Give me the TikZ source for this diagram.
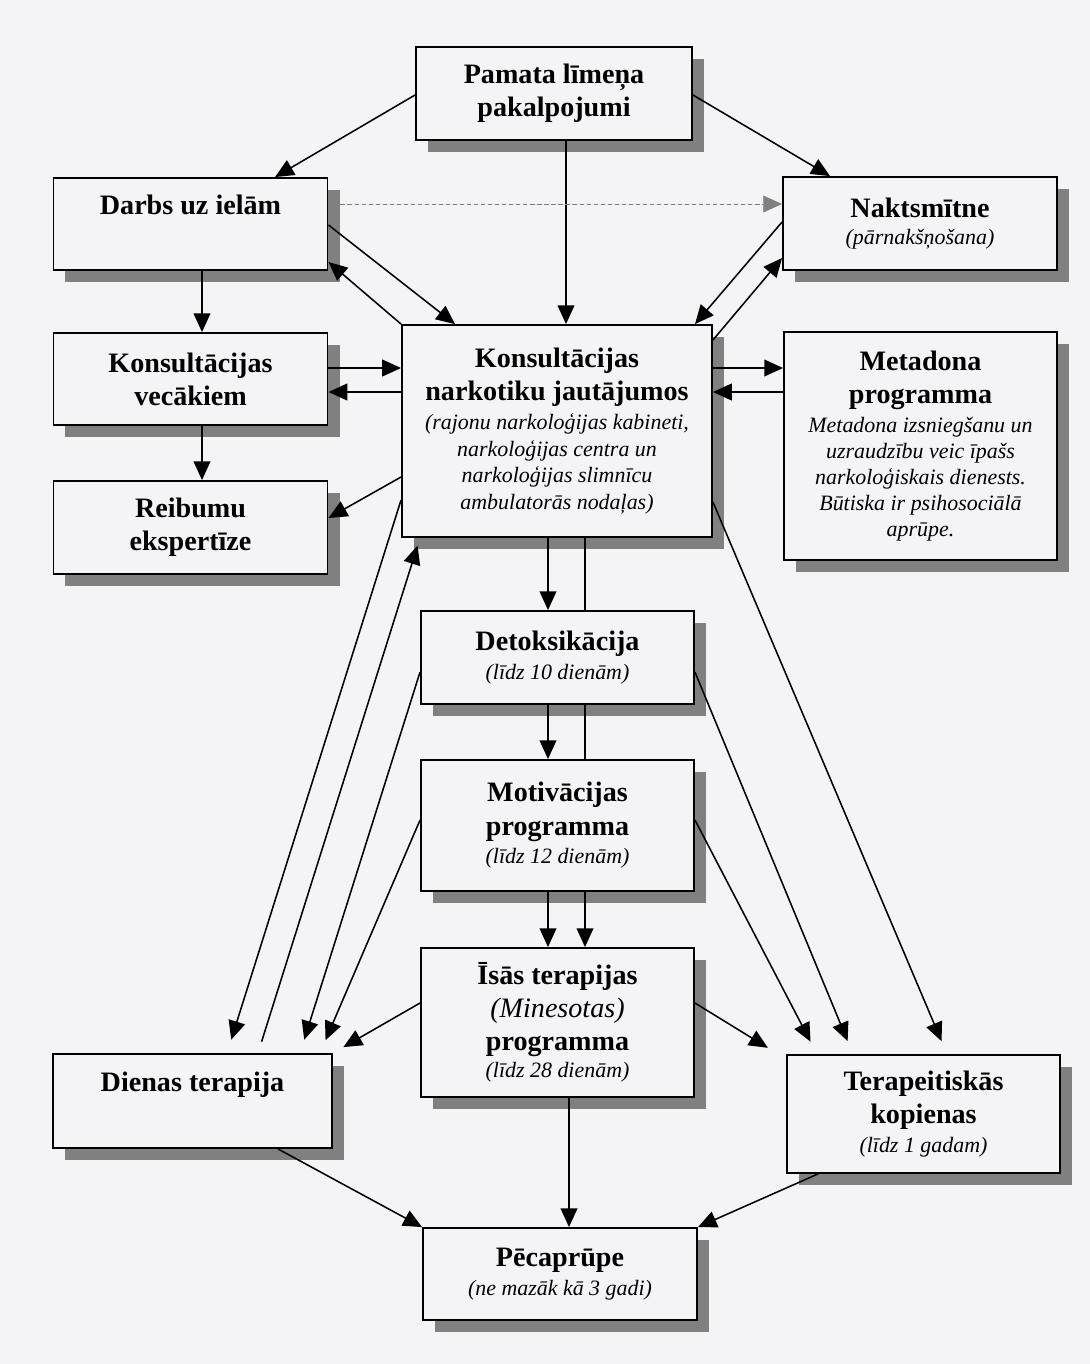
\documentclass[tikz,border=0pt]{standalone}
\usepackage{fontspec}
\setmainfont{Liberation Serif}
\usetikzlibrary{arrows.meta,shadows}
\definecolor{paper}{RGB}{244,244,247}
\newcommand\nt{\fontsize{15.6}{19}\selectfont\mdseries\itshape}
\newcommand\ntbig{\fontsize{20}{23.5}\selectfont\mdseries\itshape}
\tikzset{
  box/.style={draw, line width=1.3pt, fill=paper, align=center, inner sep=0pt,
    minimum width=6.85cm, minimum height=2.3cm,
    font=\fontsize{20}{23.5}\selectfont\bfseries,
    drop shadow={shadow xshift=0.3cm, shadow yshift=-0.3cm, fill=black!50, opacity=1}},
  link/.style={line width=1.1pt, -{Triangle[length=0.47cm,width=0.42cm]}},
  stopshort/.style={shorten >=0.35cm},
}
\begin{document}
\begin{tikzpicture}[x=0.025cm, y=-0.025cm]
\fill[paper] (0,0) rectangle (1090,1364);
\useasboundingbox (0,0) rectangle (1090,1364);

\node[box, minimum width=6.9cm, minimum height=2.325cm] (Pamata) at (554,93.5) {Pamata līmeņa\\ pakalpojumi};
\node[box, text depth=0.95cm] (Darbs) at (190.5,224) {Darbs uz ielām};
\node[box, minimum height=2.325cm] (Nakts) at (920,223.5) {Naktsmītne\\[-4pt] \nt (pārnakšņošana)};
\node[box] (KonsVec) at (190.5,379) {Konsultācijas\\ vecākiem};
\node[box, minimum height=2.325cm] (Reib) at (190.5,527.5) {Reibumu\\ ekspertīze};
\node[box, minimum width=7.75cm, minimum height=5.3cm] (Kons) at (557,431) {Konsultācijas\\ narkotiku jautājumos\\[-3pt]
  \nt (rajonu narkoloģijas kabineti,\\[-4.5pt] \nt narkoloģijas centra un\\[-4.5pt]
  \nt narkoloģijas slimnīcu\\[-4.5pt] \nt ambulatorās nodaļas)};
\node[box, minimum width=6.825cm, minimum height=5.7cm] (Meta) at (920.5,446) {Metadona\\ programma\\[-3pt]
  \nt Metadona izsniegšanu un\\[-5pt] \nt uzraudzību veic īpašs\\[-5pt]
  \nt narkoloģiskais dienests.\\[-5pt] \nt Būtiska ir psihosociālā\\[-5pt] \nt aprūpe.};
\node[box, minimum width=6.825cm, minimum height=2.325cm] (Detox) at (557.5,657.5) {Detoksikācija\\[-3pt] \nt (līdz 10 dienām)};
\node[box, minimum width=6.825cm, minimum height=3.275cm] (Motiv) at (557.5,825.5) {Motivācijas\\ programma\\[-3pt] \nt (līdz 12 dienām)};
\node[box, minimum width=6.825cm, minimum height=3.725cm] (Isas) at (557.5,1022.5) {Īsās terapijas\\ \ntbig (Minesotas)\\ programma\\[-4pt] \nt (līdz 28 dienām)};
\node[box, minimum width=6.975cm, minimum height=2.35cm, text depth=0.95cm] (Dienas) at (192.5,1101) {Dienas terapija};
\node[box, minimum width=6.825cm, minimum height=2.95cm] (Terap) at (923.5,1114) {Terapeitiskās\\ kopienas\\[-3pt] \nt (līdz 1 gadam)};
\node[box] (Pec) at (560,1274) {Pēcaprūpe\\[-3pt] \nt (ne mazāk kā 3 gadi)};

% top level
\draw[link] (Pamata.west |- 0,95) -- (Darbs.north -| 275,0);
\draw[link] (Pamata.east |- 0,95) -- (Nakts.north -| 830,0);
\draw[link] (Pamata.south -| 566,0) -- (Kons.north -| 566,0);
\draw[link, densely dashed, draw=gray, fill=gray, line width=0.6pt, shorten <=0.3cm] (Darbs.east |- 0,204) -- (Nakts.west |- 0,204);
\draw[link] (Darbs.east |- 0,225) -- (Kons.north -| 455,0);
\draw[link] (Kons.north west) -- (Darbs.east |- 0,262);
\draw[link] (Darbs.south -| 202,0) -- (KonsVec.north -| 202,0);
\draw[link] (KonsVec.east |- 0,368) -- (Kons.west |- 0,368);
\draw[link] (Kons.west |- 0,392) -- (KonsVec.east |- 0,392);
\draw[link] (KonsVec.south -| 202,0) -- (Reib.north -| 202,0);
\draw[link] (Kons.west |- 0,477) -- (Reib.east |- 0,518);
\draw[link] (Nakts.west |- 0,222) -- (Kons.north -| 695,0);
\draw[link] (Kons.east |- 0,340) -- (Nakts.west |- 0,258);
\draw[link] (Kons.east |- 0,368) -- (Meta.west |- 0,368);
\draw[link] (Meta.west |- 0,392) -- (Kons.east |- 0,392);

% middle column
\draw[link] (Kons.south -| 548,0) -- (Detox.north -| 548,0);
\draw[line width=1.1pt] (Detox.north -| 585,0) -- (Kons.south -| 585,0);
\draw[link] (Detox.south -| 548,0) -- (Motiv.north -| 548,0);
\draw[line width=1.1pt] (Motiv.north -| 585,0) -- (Detox.south -| 585,0);
\draw[link] (Motiv.south -| 548,0) -- (Isas.north -| 548,0);
\draw[link] (Motiv.south -| 585,0) -- (Isas.north -| 585,0);
\draw[link] (Isas.south -| 569,0) -- (Pec.north -| 569,0);

% to day therapy
\draw[link, stopshort] (Kons.west |- 0,500) -- (Dienas.north -| 227,0);
\draw[link, shorten <=0.3cm, shorten >=0.2cm] (Dienas.north -| 258,0) -- (Kons.south -| 420,0);
\draw[link, stopshort] (Detox.west |- 0,672) -- (Dienas.north -| 300,0);
\draw[link, stopshort] (Motiv.west |- 0,820) -- (Dienas.north -| 320,0);
\draw[link, shorten >=0.3cm] (Isas.west |- 0,1003) -- (Dienas.north east);

% to communities
\draw[link, stopshort] (Kons.east |- 0,502) -- (Terap.north -| 947,0);
\draw[link, stopshort] (Detox.east |- 0,672) -- (Terap.north -| 853,0);
\draw[link, stopshort] (Motiv.east |- 0,820) -- (Terap.north -| 817,0);
\draw[link, shorten >=0.3cm] (Isas.east |- 0,1003) -- ([xshift=-0.2cm]Terap.north west);

% aftercare
\draw[link] (Dienas.south -| 278,0) -- (Pec.north west);
\draw[link] (Terap.south -| 818,0) -- (Pec.north east);
\end{tikzpicture}
\end{document}
